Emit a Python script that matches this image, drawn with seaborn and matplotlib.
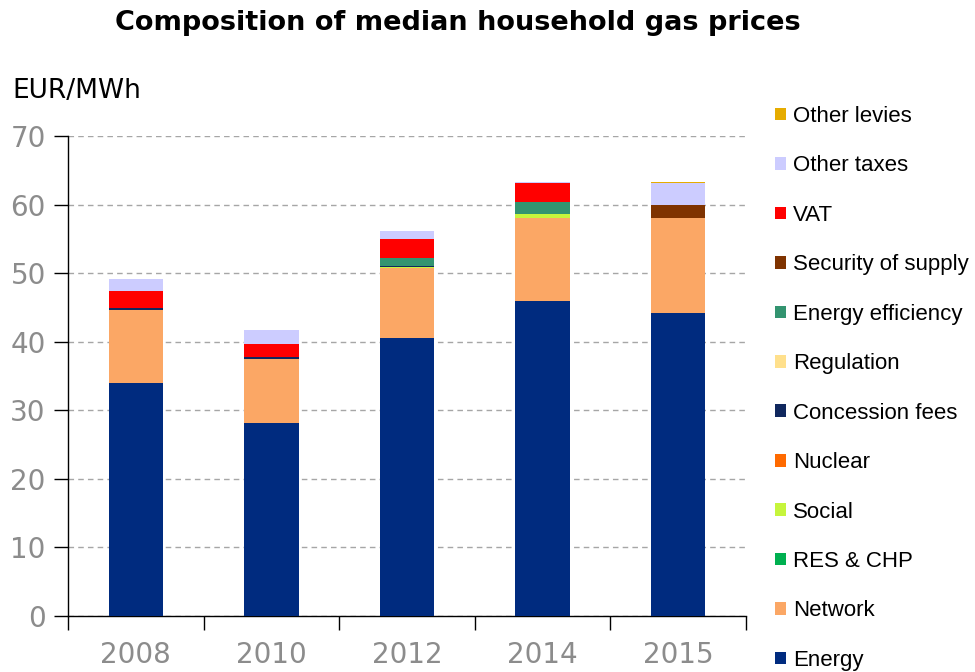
import matplotlib
matplotlib.use("Agg")
import matplotlib.pyplot as plt
from matplotlib.patches import Patch
import numpy as np
import pandas as pd
import seaborn as sns

years = ["2008", "2010", "2012", "2014", "2015"]

# Components, bottom of the stack first (EUR/MWh)
energy = [34.0, 28.1, 40.5, 46.0, 44.2]
network = [10.6, 9.4, 10.2, 12.0, 13.9]
res_chp = [0.0, 0.0, 0.0, 0.0, 0.0]
social = [0.0, 0.0, 0.2, 0.6, 0.0]
nuclear = [0.0, 0.0, 0.0, 0.0, 0.0]
concession_fees = [0.3, 0.2, 0.2, 0.0, 0.0]
regulation = [0.0, 0.0, 0.0, 0.0, 0.0]
energy_efficiency = [0.0, 0.0, 1.1, 1.8, 0.0]
security_of_supply = [0.0, 0.0, 0.0, 0.0, 1.9]
vat = [2.5, 2.0, 2.8, 2.8, 0.0]
other_taxes = [1.8, 2.0, 1.1, 0.1, 3.1]
other_levies = [0.0, 0.0, 0.0, 0.0, 0.2]

components = [
    ("Energy", energy, "#002B7F"),
    ("Network", network, "#FBA765"),
    ("RES & CHP", res_chp, "#00B050"),
    ("Social", social, "#C6F53C"),
    ("Nuclear", nuclear, "#FF6A00"),
    ("Concession fees", concession_fees, "#10285E"),
    ("Regulation", regulation, "#FFE08C"),
    ("Energy efficiency", energy_efficiency, "#339470"),
    ("Security of supply", security_of_supply, "#7F3300"),
    ("VAT", vat, "#FF0000"),
    ("Other taxes", other_taxes, "#CCCCFF"),
    ("Other levies", other_levies, "#E6AC00"),
]

sns.set_theme(style="white")
plt.rcParams["font.family"] = ["DejaVu Sans"]
plt.rcParams["text.color"] = "black"

fig = plt.figure(figsize=(9.75, 6.72), dpi=100)
ax = fig.add_axes([68 / 975, 56 / 672, (746 - 68) / 975, (616 - 136) / 672])

# Stacked bars: draw cumulative totals from the top layer downwards
cum = np.cumsum([np.array(v, dtype=float) for _, v, _ in components], axis=0)
for i in range(len(components) - 1, -1, -1):
    name, _, color = components[i]
    df = pd.DataFrame({"year": years, "value": cum[i]})
    sns.barplot(data=df, x="year", y="value", color=color, width=0.4,
                saturation=1, linewidth=0, ax=ax, zorder=3)

ax.set_xlim(-0.5, 4.5)
ax.set_ylim(0, 70)
ax.set_xlabel("")
ax.set_ylabel("")

# Y axis
ax.set_yticks(np.arange(0, 71, 10))
ax.tick_params(axis="y", which="major", direction="out", length=10, width=1,
               color="black", labelsize=20, labelcolor="#8C8C8C", pad=6, left=True)
ax.yaxis.grid(True, linestyle=(0, (4, 3)), color="#A6A6A6", linewidth=1)
ax.set_axisbelow(True)

# X axis: tick marks between categories, labels centred under bars
ax.set_xticks(np.arange(-0.5, 5, 1.0))
ax.set_xticklabels([""] * 6)
ax.set_xticks(np.arange(5), minor=True)
ax.set_xticklabels(years, minor=True)
ax.tick_params(axis="x", which="major", direction="out", length=10, width=1,
               color="black", bottom=True)
ax.tick_params(axis="x", which="minor", length=0, labelsize=20,
               labelcolor="#8C8C8C", pad=18)

for side in ["top", "right"]:
    ax.spines[side].set_visible(False)
for side in ["left", "bottom"]:
    ax.spines[side].set_color("black")
    ax.spines[side].set_linewidth(1)

fig.text(0.47, 1 - 23 / 672, "Composition of median household gas prices",
         ha="center", va="center", fontsize=19.5, fontweight="bold", color="black")
fig.text(12 / 975, 1 - 91 / 672, "EUR/MWh", ha="left", va="center", fontsize=19,
         color="black")

handles = [Patch(facecolor=c, edgecolor="none", label=n) for n, _, c in components[::-1]]
leg = fig.legend(handles=handles, loc="upper left", bbox_to_anchor=(775 / 975, 1 - 106 / 672),
                 frameon=False, handlelength=0.5, handleheight=0.5, handletextpad=0.3,
                 labelspacing=1.28, borderaxespad=0, borderpad=0,
                 prop={"family": "Liberation Sans", "size": 16})
for t in leg.get_texts():
    t.set_color("black")

fig.savefig("out.png", dpi=100)
